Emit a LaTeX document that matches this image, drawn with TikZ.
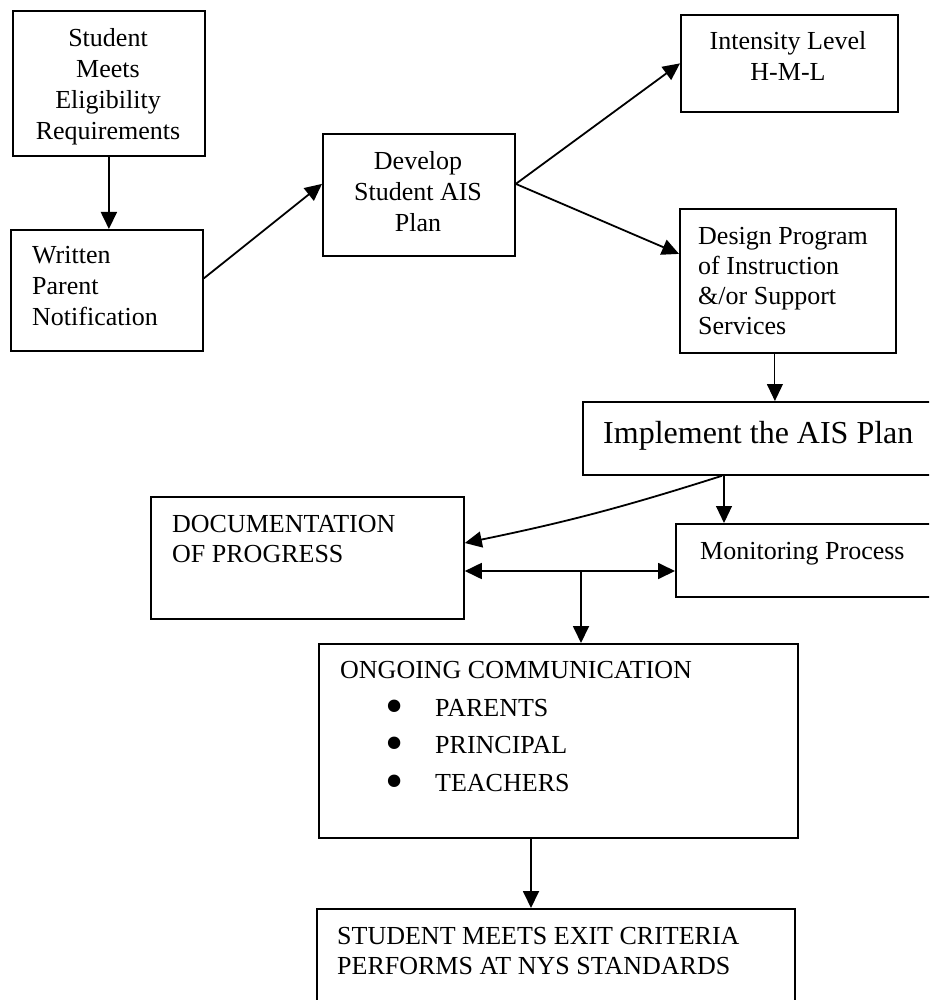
\documentclass[tikz,border=0pt]{standalone}
\usepackage{fontspec}
\setmainfont{Liberation Serif}
\usepackage{graphicx}
\usetikzlibrary{arrows.meta,calc}
\tikzset{
  box/.style={draw, line width=1.8pt, inner sep=0pt, anchor=north west},
  txt/.style={inner sep=0pt, font=\fontsize{26}{31}\selectfont},
  arr/.style={line width=1.8pt, -{Triangle[length=17pt,width=16pt]}},
  arrthin/.style={line width=1.1pt, -{Triangle[length=17pt,width=16pt]}},
  dbl/.style={line width=1.8pt, {Triangle[length=17pt,width=16pt]}-{Triangle[length=17pt,width=16pt]}},
}
\newcommand{\bul}{\makebox[0pt][c]{\smash{\raisebox{-7pt}{\scalebox{2}{\textbullet}}}}}
\begin{document}
\begin{tikzpicture}[x=1pt,y=-1pt]
\useasboundingbox (0,0) rectangle (929,1000);
\fill[white] (0,0) rectangle (929,1000);
\clip (0,0) rectangle (929,1000);

% boxes
\node[box, minimum width=192pt, minimum height=145pt] (elig) at (12,10) {};
\node[box, minimum width=192pt, minimum height=121pt] (written) at (10,229) {};
\node[box, minimum width=192pt, minimum height=122pt] (develop) at (322,133) {};
\node[box, minimum width=217pt, minimum height=97pt] (intensity) at (680,14) {};
\node[box, minimum width=216pt, minimum height=144pt] (design) at (679,208) {};
\node[box, minimum width=380pt, minimum height=73pt] (implement) at (582,401) {};
\node[box, minimum width=313pt, minimum height=122pt] (doc) at (150,496) {};
\node[box, minimum width=290pt, minimum height=73pt] (monitor) at (675,523) {};
\node[box, minimum width=479pt, minimum height=194pt] (ongoing) at (318,643) {};
\node[box, minimum width=478pt, minimum height=130pt] (exit) at (316,908) {};

% texts
\node[txt, anchor=north, align=center] (eligT) at (108,28) {Student\\Meets\\Eligibility\\Requirements};
\node[txt, anchor=north west, align=left] (writtenT) at (32,246) {Written\\Parent\\Notification};
\node[txt, anchor=north, align=center] (developT) at (418,151) {Develop\\Student AIS\\Plan};
\node[txt, anchor=north, align=center] (intensityT) at (788,31) {Intensity Level\\H-M-L};
\node[txt, anchor=north west, align=left, font=\fontsize{26}{30}\selectfont] (designT) at (698,227) {Design Program\\of Instruction\\\&/or Support\\Services};
\node[txt, anchor=north west, font=\fontsize{32}{38}\selectfont] (implementT) at (603,421) {Implement the AIS Plan};
\node[txt, anchor=north west, align=left, font=\fontsize{26}{30}\selectfont] (docT) at (172,515) {DOCUMENTATION\\OF PROGRESS};
\node[txt, anchor=north west] (monitorT) at (700,542) {Monitoring Process};
\node[txt, anchor=north west, align=left, font=\fontsize{26}{37.7}\selectfont] (ongoingT) at (340,661)
  {ONGOING COMMUNICATION\\
   \hspace*{54pt}\bul\hspace*{41pt}PARENTS\\
   \hspace*{54pt}\bul\hspace*{41pt}PRINCIPAL\\
   \hspace*{54pt}\bul\hspace*{41pt}TEACHERS};
\node[txt, anchor=north west, align=left, font=\fontsize{26}{30}\selectfont] (exitT) at (337,927) {STUDENT MEETS EXIT CRITERIA\\PERFORMS AT NYS STANDARDS};

% connectors
\draw[arr] (elig.south) -- (elig.south |- written.north);
\draw[arr] ([yshift=12pt]written.east) -- ([yshift=11pt]develop.west);
\draw[arr] ([yshift=11pt]develop.east) -- (intensity.west);
\draw[arr] ([yshift=11pt]develop.east) -- ([yshift=27pt]design.west);
\draw[arrthin] ([xshift=-13pt]design.south) -- ([xshift=-13pt]design.south |- implement.north);
\draw[arr] (implement.south -| 722,0) to[bend left=3] (doc.east |- 0,543);
\draw[arrthin] (implement.south -| 724,0) -- (monitor.north -| 724,0);
\draw[dbl] (doc.east |- 0,571) -- (monitor.west |- 0,571);
\coordinate (junc) at (581,571);
\draw[arr] (junc) -- (junc |- ongoing.north);
\draw[arr] (ongoing.south -| 531,0) -- (exit.north -| 531,0);
\end{tikzpicture}
\end{document}
